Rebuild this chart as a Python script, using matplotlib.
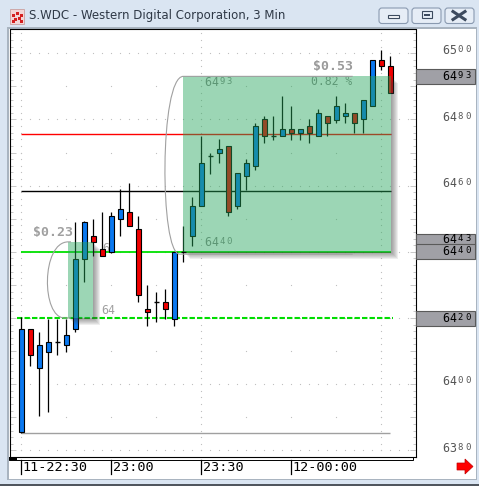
import matplotlib
matplotlib.use('Agg')
import matplotlib.pyplot as plt
import matplotlib.transforms as mtransforms
from matplotlib.patches import Rectangle, Polygon, FancyBboxPatch, PathPatch
from matplotlib.path import Path
import numpy as np

# 3 minute bars, prices in cents
opens = [6385.5, 6416.6, 6404.8, 6409.7, 6412.7, 6411.7, 6416.6, 6437.8, 6444.8, 6440.9,
         6439.9, 6449.9, 6452.0, 6446.8, 6422.7, 6424.8, 6424.8, 6419.7, 6440.0, 6444.7,
         6453.7, 6468.9, 6469.8, 6471.9, 6453.8, 6462.8, 6465.9, 6480.1, 6474.9, 6474.9,
         6477.1, 6475.9, 6477.9, 6474.9, 6481.0, 6479.9, 6481.0, 6482.0, 6480.1, 6484.0,
         6498.0, 6496.2]
highs = [6420.4, 6416.6, 6415.7, 6419.7, 6419.7, 6419.7, 6448.9, 6449.2, 6449.9, 6452.0,
         6452.0, 6459.0, 6460.9, 6450.9, 6430.0, 6427.8, 6428.8, 6439.9, 6447.8, 6456.7,
         6475.0, 6470.0, 6474.1, 6471.9, 6463.8, 6468.0, 6478.9, 6481.1, 6481.1, 6487.1,
         6484.1, 6477.1, 6480.1, 6483.1, 6481.0, 6487.1, 6485.1, 6482.0, 6485.9, 6498.0,
         6501.0, 6499.2]
lows = [6385.4, 6405.6, 6390.5, 6391.5, 6408.7, 6409.7, 6415.7, 6430.8, 6438.8, 6438.8,
        6439.7, 6444.8, 6447.8, 6424.8, 6417.7, 6418.7, 6419.7, 6417.7, 6436.9, 6441.7,
        6453.7, 6463.5, 6466.8, 6450.7, 6452.8, 6458.8, 6464.8, 6472.8, 6473.8, 6474.9,
        6473.9, 6473.9, 6472.9, 6474.9, 6474.9, 6478.9, 6478.9, 6475.9, 6475.9, 6484.0,
        6495.0, 6488.0]
closes = [6416.6, 6408.8, 6411.9, 6412.7, 6412.7, 6414.9, 6437.8, 6448.9, 6442.9, 6438.8,
          6450.8, 6452.9, 6447.8, 6426.9, 6421.8, 6424.8, 6422.7, 6439.9, 6440.0, 6453.7,
          6466.8, 6468.9, 6471.1, 6452.0, 6463.8, 6466.8, 6477.9, 6474.9, 6474.9, 6477.1,
          6475.9, 6477.1, 6475.9, 6482.0, 6478.9, 6484.0, 6482.0, 6478.9, 6485.9, 6498.0,
          6496.2, 6488.0]

time_ticks = [0, 10, 20, 30]
time_labels = ['11-22:30', '23:00', '23:30', '12-00:00']
price_ticks = [6380, 6400, 6420, 6440, 6460, 6480, 6500]
price_tags = ['6493', '6443', '6440', '6420']

red_level = 6475.5
black_level = 6458.3
green_level = 6440
dashed_level = 6420
low_level = 6385.4

# measured moves: (start bar, end bar, low, high, change text)
move1 = (5.22, 8.0, 6420, 6443, '$0.23')
move2 = (18.0, 41.05, 6440, 6493, '$0.53', '0.82 %')

W, H = 479, 486
PPU = 3.31          # pixels per price unit
PPB = 9.0           # pixels per bar
BLUE = '#0a78f0'
RED = '#f00000'
MONO = 'DejaVu Sans Mono'

fig = plt.figure(figsize=(W / 100, H / 100), dpi=100)
fig.patch.set_facecolor('#dae5f2')


def fx(x):
    return x / W


def fy(y):
    return 1 - y / H


def fig_rect(x0, y0, x1, y1, **kw):
    r = Rectangle((fx(x0), fy(y1)), (x1 - x0) / W, (y1 - y0) / H,
                  transform=fig.transFigure, **kw)
    fig.add_artist(r)
    return r


# window chrome
fig_rect(7, 27, 477, 480, facecolor='#a9b4c0', edgecolor='none', zorder=-3)
fig_rect(9, 29, 476, 479, facecolor='white', edgecolor='none', zorder=-2)
fig_rect(0, 484, 479, 486, facecolor='#50565e', edgecolor='none', zorder=-2)

fig.text(fx(29), fy(15.5), 'S.WDC - Western Digital Corporation, 3 Min',
         fontsize=8.5, color='#2e3846', ha='left', va='center')

# app icon
fig_rect(10, 9, 24, 24, facecolor='#f3d6d6', edgecolor='#c9a0a0', lw=0.6, zorder=2)
for cx, cy in [(12, 14), (16, 12), (20, 14), (14, 18), (18, 17), (12, 20), (20, 20)]:
    fig_rect(cx, cy, cx + 3, cy + 3, facecolor='#d42020', edgecolor='none', zorder=3)

# caption buttons
for bx0, bx1 in [(379, 408), (412, 441), (445, 474)]:
    b = FancyBboxPatch((fx(bx0), fy(23.5)), (bx1 - bx0) / W, 15.5 / H,
                       boxstyle='round,pad=0,rounding_size=0.006',
                       transform=fig.transFigure, facecolor='#e6edf6',
                       edgecolor='#8a9ab0', lw=0.8, zorder=2)
    fig.add_artist(b)
fig_rect(388, 15.5, 399, 18.5, facecolor='#f4f6f9', edgecolor='#3c4a5e', lw=0.8, zorder=3)
fig_rect(422, 11.5, 432, 18.5, facecolor='none', edgecolor='#3c4a5e', lw=0.8, zorder=3)
fig_rect(424, 14, 430, 16.5, facecolor='#3c4a5e', edgecolor='none', zorder=3)
for (a, b), (c, d) in [((453, 11.5), (465, 19.5)), ((453, 19.5), (465, 11.5))]:
    fig.add_artist(plt.Line2D([fx(a), fx(c)], [fy(b), fy(d)], transform=fig.transFigure,
                              color='#3c4a5e', lw=2.2, zorder=3))

# main price panel
ax_left, ax_right, ax_top, ax_bot = 9.5, 415.5, 29.5, 456.5
ax = fig.add_axes([fx(ax_left), fy(ax_bot), (ax_right - ax_left) / W, (ax_bot - ax_top) / H])
ax.set_facecolor('white')
x0_px = 21.3
ax.set_xlim((ax_left - x0_px) / PPB, (ax_right - x0_px) / PPB)
ax.set_ylim(dashed_level - (ax_bot - 318) / PPU, dashed_level + (318 - ax_top) / PPU)
for sp in ax.spines.values():
    sp.set_color('black')
    sp.set_linewidth(0.8)
ax.set_xticks([])
ax.set_yticks(np.arange(6380, 6510, 10))
ax.set_yticks(np.arange(6380, 6508, 2), minor=True)
ax.tick_params(axis='y', which='both', direction='in', left=True, right=True,
               labelleft=False, labelright=False, color='#c8c8c8', width=0.7)
ax.tick_params(axis='y', which='major', length=4)
ax.tick_params(axis='y', which='minor', length=2.5)

# dotted grid
dot = dict(ls='none', marker='s', ms=0.8, mec='none', mfc='#c0c0c0', zorder=1)
for lvl in range(6380, 6501, 20):
    ax.plot(np.arange(0, 44), [lvl] * 44, **dot)
for lvl in range(6390, 6501, 20):
    ax.plot(np.arange(0, 44, 5), [lvl] * 9, **dot)
for xi in (0, 20, 40):
    ys = np.arange(6380, 6507, 2)
    ax.plot([xi] * len(ys), ys, **dot)

# price levels
ax.hlines(red_level, 0, 41.1, color='#ff0000', lw=1.0, zorder=2)
ax.hlines(black_level, 0, 41.1, color='black', lw=1.0, zorder=2)
ax.hlines(green_level, 0, 41.1, color='#00e000', lw=1.3, zorder=2)
ax.plot([-0.5, 41.3], [dashed_level, dashed_level], color='#00dd00', lw=1.5,
        dashes=(2.6, 1.0), zorder=2)
ax.hlines(low_level, 0, 41.0, color='#a0a0a0', lw=1.0, zorder=2)

# candles
for i, (o, h, l, c) in enumerate(zip(opens, highs, lows, closes)):
    ax.vlines(i, l, h, color='black', lw=0.9, zorder=3)
    if o == c:
        ax.hlines(o, i - 0.3, i + 0.3, color='black', lw=1.0, zorder=3.2)
    else:
        ax.bar(i, abs(c - o), bottom=min(o, c), width=0.6,
               color=BLUE if c > o else RED, edgecolor='black', lw=0.8, zorder=3.1)


def glyphs(x, y, chars, size, pitch, trans, dx=0.0, dy=0.0, **kw):
    # fixed pitch text, one character at a time
    for k, ch in enumerate(chars):
        t = mtransforms.offset_copy(trans, fig=fig, x=dx + k * pitch, y=dy, units='dots')
        ax.text(x, y, ch, transform=t, fontsize=size, family=MONO,
                ha='center', va='center', clip_on=False, **kw)


def price_text(x, y, s, trans, pitch=7.5, big=8.4, small=6.4, dy=0.0, **kw):
    glyphs(x, y, s[:2], big, pitch, trans, dy=dy, **kw)
    glyphs(x, y, s[2:], small, pitch, trans, dx=2 * pitch, dy=dy + 1.0, **kw)


def measure_box(x0, x1, lo, hi):
    for s in range(1, 8):
        sx, sy = s / PPB, s / PPU
        ax.add_patch(Polygon([(x1, hi - sy), (x1 + sx, hi - sy), (x1 + sx, lo - sy),
                              (x0 + sx, lo - sy), (x0 + sx, lo), (x1, lo)],
                             closed=True, facecolor='#404040', edgecolor='none',
                             alpha=0.085, zorder=4))
    ax.add_patch(Rectangle((x0, lo), x1 - x0, hi - lo, facecolor='#25a65b',
                           edgecolor='none', alpha=0.45, zorder=5))


def bracket(xr, xt, xb, cx, lo, hi):
    verts = [(xr, hi), (xt, hi), (cx, hi), (cx, lo), (xb, lo), (xr, lo)]
    codes = [Path.MOVETO, Path.LINETO, Path.CURVE4, Path.CURVE4, Path.CURVE4, Path.LINETO]
    ax.add_patch(PathPatch(Path(verts, codes), facecolor='none', edgecolor='#a0a0a0',
                           lw=0.8, zorder=6))


# first measured move
bx0, bx1, blo, bhi, bchg = move1
measure_box(bx0, bx1, blo, bhi)
bracket(bx0 + 0.3, bx0, bx0 - 0.4, 2.2, blo, bhi)
ax.text(5.71, 6445.7, bchg, family=MONO, fontsize=9.5, fontweight='bold',
        color='#a0a0a0', ha='right', va='center', zorder=6)
ax.text(8.93, 6422.4, '64', family=MONO, fontsize=8.4, color='#a0a0a0',
        ha='left', va='center', zorder=6)
ax.text(8.97, 6441.1, '6', family=MONO, fontsize=8.4, color='#a0a0a0',
        ha='left', va='center', zorder=1.5)

# second measured move
bx0, bx1, blo, bhi, bchg, bpct = move2
measure_box(bx0, bx1, blo, bhi)
bracket(36.82, bx0, 17.6, 15.35, blo - 0.7, bhi)
ax.text(36.82, 6495.9, bchg, family=MONO, fontsize=9.5, fontweight='bold',
        color='#9a9a9a', ha='right', va='center', zorder=6)
ax.text(36.82, 6491.3, bpct, family=MONO, fontsize=8.3, color='#8c8c8c',
        ha='right', va='center', zorder=4.5)
price_text(20.72, 6491.2, str(bhi), ax.transData, pitch=7.0, color='#8a8a8a', zorder=4.5)
price_text(20.72, 6442.9, str(blo), ax.transData, pitch=7.0, color='#8a8a8a', zorder=4.5)

# right price scale; tags hide the scale labels they sit on
right = mtransforms.blended_transform_factory(fig.transFigure, ax.transData)
tagged = [float(t) for t in price_tags]
for p in price_ticks:
    if any(abs(p - q) < 3 for q in tagged):
        continue
    price_text(fx(445.45), p, str(p), right, dy=2.4, color='#555555')
tag_h = 15 / PPU
for k, tag in enumerate(price_tags):
    p = float(tag)
    # a tag half covered by the one drawn after it keeps its text in the visible part
    crowded = any(0 < p - q < 5 for q in tagged[k + 1:])
    ax.add_patch(Rectangle((fx(416), p - tag_h / 2), 59 / W, tag_h, transform=right,
                           facecolor='#a0a0a6', edgecolor='#5a5a5a', lw=0.8,
                           clip_on=False, zorder=7 + k))
    price_text(fx(445.45), p, tag, right, dy=2.6 if crowded else 0.0,
               color='black', zorder=7.5 + k)

# time scale
bottom = mtransforms.blended_transform_factory(ax.transData, fig.transFigure)
for t, lab in zip(time_ticks, time_labels):
    ax.plot([t, t], [fy(460), fy(474)], transform=bottom, color='black', lw=0.9,
            clip_on=False)
    tt = mtransforms.offset_copy(bottom, fig=fig, x=1.5, y=0, units='dots')
    ax.text(t, fy(467), lab, transform=tt, family=MONO, fontsize=9.7,
            ha='left', va='center', clip_on=False)

# scroll strip under the panel
fig_rect(9, 456.5, 413, 459.5, facecolor='none', edgecolor='black', lw=0.7, zorder=2)
fig_rect(9, 456.5, 17, 459.5, facecolor='black', edgecolor='none', zorder=2)

# next-page arrow
arrow = [(457, 463), (465, 463), (465, 459), (473, 466.5), (465, 474), (465, 470), (457, 470)]
fig.add_artist(Polygon([(fx(a), fy(b)) for a, b in arrow], closed=True,
                       transform=fig.transFigure, facecolor='#ff0000',
                       edgecolor='#c00000', lw=0.5, zorder=2))

fig.savefig('out.png', dpi=100)
